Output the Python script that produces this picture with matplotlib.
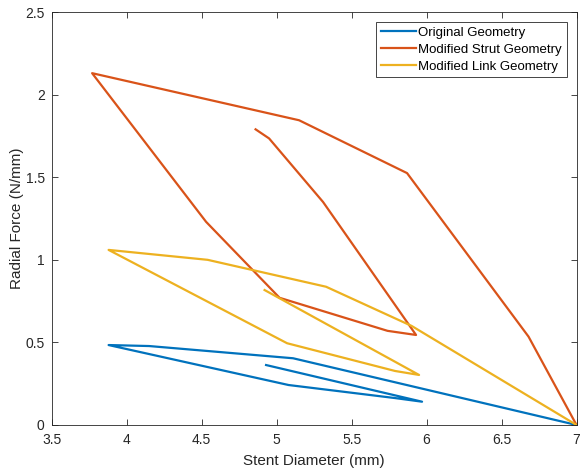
import numpy as np
import matplotlib.pyplot as plt
from matplotlib.ticker import FuncFormatter

plt.rcParams['font.family'] = ['Liberation Sans', 'DejaVu Sans']

# data (diameter in mm, force in N/mm)
orig_d = [7.0, 5.11, 4.15, 3.88, 5.08, 5.79, 5.97, 4.93]
orig_f = [0.0, 0.404, 0.478, 0.484, 0.242, 0.163, 0.141, 0.363]

strut_d = [7.0, 6.68, 5.87, 5.15, 3.77, 4.53, 5.02, 5.74, 5.93, 5.31, 4.95, 4.86]
strut_f = [0.0, 0.535, 1.525, 1.845, 2.13, 1.23, 0.77, 0.57, 0.545, 1.35, 1.735, 1.79]

link_d = [7.0, 5.9, 5.33, 4.54, 3.88, 5.07, 5.79, 5.95, 4.92]
link_f = [0.0, 0.6, 0.837, 1.0, 1.06, 0.495, 0.327, 0.303, 0.817]

fig = plt.figure(figsize=(5.8, 4.73), dpi=100)
ax = fig.add_axes([0.089, 0.1015, 0.905, 0.873])

ax.plot(orig_d, orig_f, color='#0072BD', lw=1.6, label='Original Geometry')
ax.plot(strut_d, strut_f, color='#D95319', lw=1.6, label='Modified Strut Geometry')
ax.plot(link_d, link_f, color='#EDB120', lw=1.6, label='Modified Link Geometry')

ax.set_xlim(3.5, 7)
ax.set_ylim(0, 2.5)
ax.set_xticks(np.arange(3.5, 7.01, 0.5))
ax.set_yticks(np.arange(0, 2.51, 0.5))
fmt = FuncFormatter(lambda v, p: '%g' % v)
ax.xaxis.set_major_formatter(fmt)
ax.yaxis.set_major_formatter(fmt)
ax.tick_params(direction='in', top=True, right=True, length=4, width=0.6,
               colors='#262626', labelsize=10)
ax.tick_params(axis='x', pad=6)
ax.tick_params(axis='y', pad=5)
for s in ax.spines.values():
    s.set_color('#262626')
    s.set_linewidth(0.6)

ax.set_xlabel('Stent Diameter (mm)', fontsize=11, color='#262626', labelpad=5)
ax.set_ylabel('Radial Force (N/mm)', fontsize=11, color='#262626', labelpad=1)

leg = ax.legend(loc='upper right', fontsize=9.5, fancybox=False, framealpha=1,
                edgecolor='#262626', handlelength=2.65, handletextpad=0.2,
                borderpad=0.35, labelspacing=0.35, borderaxespad=0.75)
leg.get_frame().set_linewidth(0.6)

fig.savefig('out.png', dpi=100)
